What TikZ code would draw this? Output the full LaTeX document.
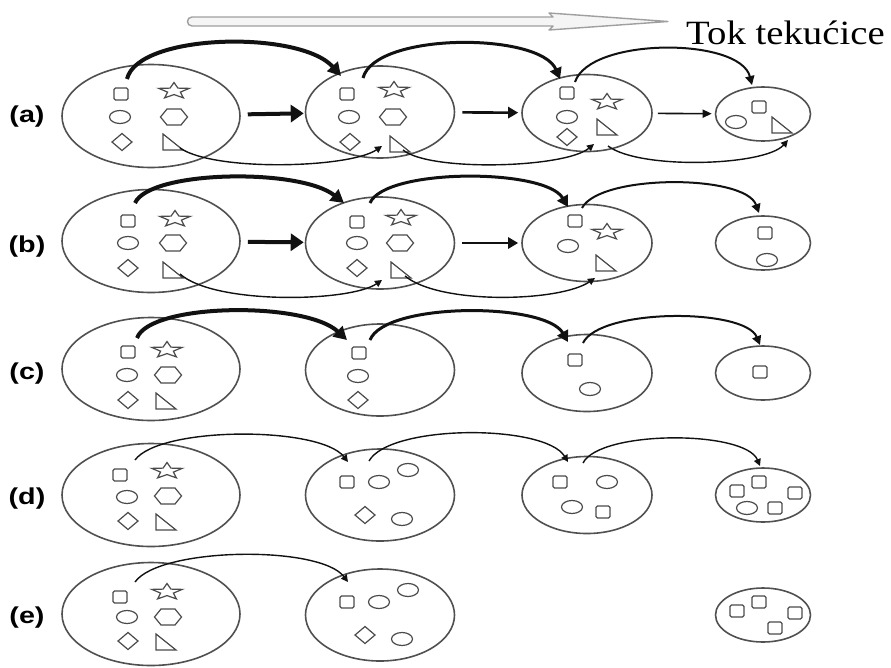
\documentclass[tikz,border=0pt]{standalone}
\usepackage{fontspec}
\setmainfont{Liberation Serif}
\newfontfamily\lblfont{Liberation Sans}
\usetikzlibrary{shapes.geometric,arrows.meta}
\definecolor{ecol}{HTML}{505050}
\definecolor{scol}{HTML}{4A4A4A}
\definecolor{acol}{HTML}{111111}
\begin{document}
\begin{tikzpicture}[x=1pt,y=-1pt,
 ell/.style={draw=ecol,line width=1.6pt,ellipse,inner sep=0pt},
 EA/.style={ell,minimum width=178pt,minimum height=103pt},
 EB/.style={ell,minimum width=149pt,minimum height=92pt},
 EC/.style={ell,minimum width=130pt,minimum height=77pt},
 ED/.style={ell,minimum width=95pt,minimum height=54pt},
 shp/.style={draw=scol,line width=1.2pt},
 arcfour/.style={draw=acol,line width=4pt,-{Triangle[length=13pt,width=14pt]}},
 arcthree/.style={draw=acol,line width=3pt,-{Triangle[length=11pt,width=12pt]}},
 arctwo/.style={draw=acol,line width=2pt,-{Triangle[length=9pt,width=9pt]}},
 arcone/.style={draw=acol,line width=1.4pt,-{Triangle[length=7pt,width=7pt]}},
 lbl/.style={font=\lblfont\bfseries\fontsize{23}{23}\selectfont,inner sep=0pt},
 sqr/.pic={\draw[shp,rounded corners=1.5pt] (-7,-6) rectangle (7,6);},
 ovl/.pic={\draw[shp] (0,0) ellipse [x radius=10.5pt, y radius=6.5pt];},
 hexa/.pic={\draw[shp] (-13.5,0) -- (-7,-8) -- (7,-8) -- (13.5,0) -- (7,8) -- (-7,8) -- cycle;},
 dia/.pic={\draw[shp] (-10,0) -- (0,-8.5) -- (10,0) -- (0,8.5) -- cycle;},
 tri/.pic={\draw[shp] (-10,-8) -- (-10,8) -- (10,8) -- cycle;},
 stp/.pic={\draw[shp,xscale=1.6,yscale=-0.85] (90:10) -- (126:4.2) -- (162:10) -- (198:4.2) -- (234:10) -- (270:4.2) -- (306:10) -- (342:4.2) -- (18:10) -- (54:4.2) -- cycle;}
]
\useasboundingbox (0,0) rectangle (891,667);

% flow arrow and title
\draw[draw=gray!75,fill=gray!8,line width=1.4pt,line join=round]
  (192,17) -- (553,17) -- (549,13) -- (668,21.5) -- (549,30) -- (553,26) -- (192,26)
  .. controls (186,26) and (186,17) .. (192,17) -- cycle;
\node[anchor=base west,inner sep=0pt,font=\fontsize{34}{34}\selectfont] (title) at (686,44) {\scalebox{1.14}[1]{Tok tekućice}};

% row labels
\node[lbl] (la) at (27,117) {\scalebox{1.25}[1]{(a)}};
\node[lbl] (lb) at (27,247) {\scalebox{1.25}[1]{(b)}};
\node[lbl] (lc) at (27,374) {\scalebox{1.25}[1]{(c)}};
\node[lbl] (ld) at (27,499) {\scalebox{1.25}[1]{(d)}};
\node[lbl] (le) at (27,618) {\scalebox{1.25}[1]{(e)}};

% ellipses
\node[EA] (a1) at (151,116) {};
\node[EB] (a2) at (380,112) {};
\node[EC] (a3) at (587,113) {};
\node[ED] (a4) at (763,114) {};
\node[EA] (b1) at (151,241) {};
\node[EB] (b2) at (380,243) {};
\node[EC] (b3) at (587,243) {};
\node[ED] (b4) at (763,243) {};
\node[EA] (c1) at (151,369) {};
\node[EB] (c2) at (380,370) {};
\node[EC] (c3) at (587,373) {};
\node[ED] (c4) at (763,373) {};
\node[EA] (d1) at (151,495) {};
\node[EB] (d2) at (380,495) {};
\node[EC] (d3) at (587,495) {};
\node[ED] (d4) at (763,495) {};
\node[EA] (e1) at (151,614) {};
\node[EB] (e2) at (380,615) {};
\node[ED] (e4) at (763,615) {};

% row a shapes
\pic at (121,94) {sqr}; \pic at (174,91) {stp}; \pic at (120,117) {ovl};
\pic at (174,117) {hexa}; \pic at (122,142) {dia}; \pic at (173,142) {tri};
\pic at (347,94) {sqr}; \pic at (394,90) {stp}; \pic at (349,117) {ovl};
\pic at (393,117) {hexa}; \pic at (350,142) {dia}; \pic at (400,144) {tri};
\pic at (567,93) {sqr}; \pic at (607,102) {stp}; \pic at (567,117) {ovl};
\pic at (607,127) {tri}; \pic at (567,137) {dia};
\pic at (759,107) {sqr}; \pic at (736,122) {ovl}; \pic at (782,125) {tri};
% row b shapes
\pic at (128,221) {sqr}; \pic at (175,219) {stp}; \pic at (128,243) {ovl};
\pic at (173,243) {hexa}; \pic at (128,268) {dia}; \pic at (173,270) {tri};
\pic at (357,222) {sqr}; \pic at (401,218) {stp}; \pic at (357,243) {ovl};
\pic at (400,243) {hexa}; \pic at (357,268) {dia}; \pic at (401,270) {tri};
\pic at (575,221) {sqr}; \pic at (607,232) {stp}; \pic at (568,246) {ovl};
\pic at (606,263) {tri};
\pic at (765,233) {sqr}; \pic at (767,260) {ovl};
% row c shapes
\pic at (128,352) {sqr}; \pic at (167,350) {stp}; \pic at (127,375) {ovl};
\pic at (168,375) {hexa}; \pic at (128,400) {dia}; \pic at (166,401) {tri};
\pic at (359,353) {sqr}; \pic at (358,376) {ovl}; \pic at (358,400) {dia};
\pic at (575,360) {sqr}; \pic at (590,389) {ovl};
\pic at (760,372) {sqr};
% row d shapes
\pic at (120,475) {sqr}; \pic at (167,471) {stp}; \pic at (127,497) {ovl};
\pic at (168,496) {hexa}; \pic at (128,521) {dia}; \pic at (166,522) {tri};
\pic at (347,482) {sqr}; \pic at (379,482) {ovl}; \pic at (408,470) {ovl};
\pic at (365,515) {dia}; \pic at (402,519) {ovl};
\pic at (560,482) {sqr}; \pic at (607,482) {ovl}; \pic at (572,507) {ovl};
\pic at (603,512) {sqr};
\pic at (737,491) {sqr}; \pic at (759,482) {sqr}; \pic at (795,493) {sqr};
\pic at (775,508) {sqr}; \pic at (747,508) {ovl};
% row e shapes
\pic at (120,597) {sqr}; \pic at (167,592) {stp}; \pic at (127,617) {ovl};
\pic at (168,617) {hexa}; \pic at (128,641) {dia}; \pic at (166,642) {tri};
\pic at (347,602) {sqr}; \pic at (379,602) {ovl}; \pic at (408,590) {ovl};
\pic at (365,635) {dia}; \pic at (402,639) {ovl};
\pic at (737,611) {sqr}; \pic at (759,602) {sqr}; \pic at (795,613) {sqr};
\pic at (775,628) {sqr};

% straight arrows
\draw[draw=acol,line width=4pt,-{Triangle[length=13pt,width=17pt]},shorten <=7pt,shorten >=1pt] (a1) -- (a2);
\draw[draw=acol,line width=2.6pt,-{Triangle[length=10pt,width=11pt]},shorten <=7pt,shorten >=3pt] (a2) -- (a3);
\draw[draw=acol,line width=1.6pt,-{Triangle[length=9pt,width=8pt]},shorten <=5pt,shorten >=3pt] (a3) -- (a4);
\draw[draw=acol,line width=4pt,-{Triangle[length=13pt,width=17pt]},shorten <=7pt,shorten >=1pt] (b1) -- (b2);
\draw[draw=acol,line width=2.6pt,-{Triangle[length=10pt,width=11pt]},shorten <=7pt,shorten >=3pt] (b2) -- (b3);

% arc end points
\coordinate (a1o) at (127,79);  \coordinate (a2i) at (341,76);
\coordinate (a2o) at (363,78);  \coordinate (a3i) at (560,79);
\coordinate (a3o) at (575,82);  \coordinate (a4i) at (752,85);
\coordinate (a1b) at (180,148); \coordinate (a2b) at (382,146);
\coordinate (a2c) at (403,150); \coordinate (a3b) at (594,144);
\coordinate (a3c) at (608,146); \coordinate (a4b) at (788,140);
\coordinate (b1o) at (135,203); \coordinate (b2i) at (344,203);
\coordinate (b2o) at (370,203); \coordinate (b3i) at (568,207);
\coordinate (b3o) at (582,208); \coordinate (b4i) at (759,213);
\coordinate (b1b) at (180,274); \coordinate (b2b) at (382,280);
\coordinate (b2c) at (405,276); \coordinate (b3b) at (595,278);
\coordinate (c1o) at (137,338); \coordinate (c2i) at (347,340);
\coordinate (c2o) at (370,340); \coordinate (c3i) at (568,342);
\coordinate (c3o) at (583,343); \coordinate (c4i) at (760,345);
\coordinate (d1o) at (135,460); \coordinate (d2i) at (348,462);
\coordinate (d2o) at (369,461); \coordinate (d3i) at (568,462);
\coordinate (d3o) at (583,463); \coordinate (d4i) at (760,466);
\coordinate (e1o) at (135,582); \coordinate (e2i) at (348,582);

% top arcs
\draw[arcfour]  (a1o) .. controls (138,33) and (300,30) .. (a2i);
\draw[arcthree] (a2o) .. controls (375,32) and (540,32) .. (a3i);
\draw[arctwo]   (a3o) .. controls (590,37) and (740,37) .. (a4i);
\draw[arcfour]  (b1o) .. controls (150,170) and (300,168) .. (b2i);
\draw[arcthree] (b2o) .. controls (385,168) and (545,168) .. (b3i);
\draw[arctwo]   (b3o) .. controls (600,174) and (745,174) .. (b4i);
\draw[arcfour]  (c1o) .. controls (150,303) and (305,301) .. (c2i);
\draw[arcthree] (c2o) .. controls (385,302) and (545,302) .. (c3i);
\draw[arctwo]   (c3o) .. controls (600,308) and (745,308) .. (c4i);
\draw[arcone]   (d1o) .. controls (160,426) and (320,426) .. (d2i);
\draw[arcone]   (d2o) .. controls (390,424) and (545,424) .. (d3i);
\draw[arcone]   (d3o) .. controls (600,430) and (745,430) .. (d4i);
\draw[arcone]   (e1o) .. controls (160,547) and (320,545) .. (e2i);

% bottom arcs
\draw[arcone] (a1b) .. controls (215,172) and (350,168) .. (a2b);
\draw[arcone] (a2c) .. controls (430,172) and (565,168) .. (a3b);
\draw[arcone] (a3c) .. controls (640,170) and (765,166) .. (a4b);
\draw[arcone] (b1b) .. controls (215,305) and (350,302) .. (b2b);
\draw[arcone] (b2c) .. controls (440,305) and (560,302) .. (b3b);
\end{tikzpicture}
\end{document}
